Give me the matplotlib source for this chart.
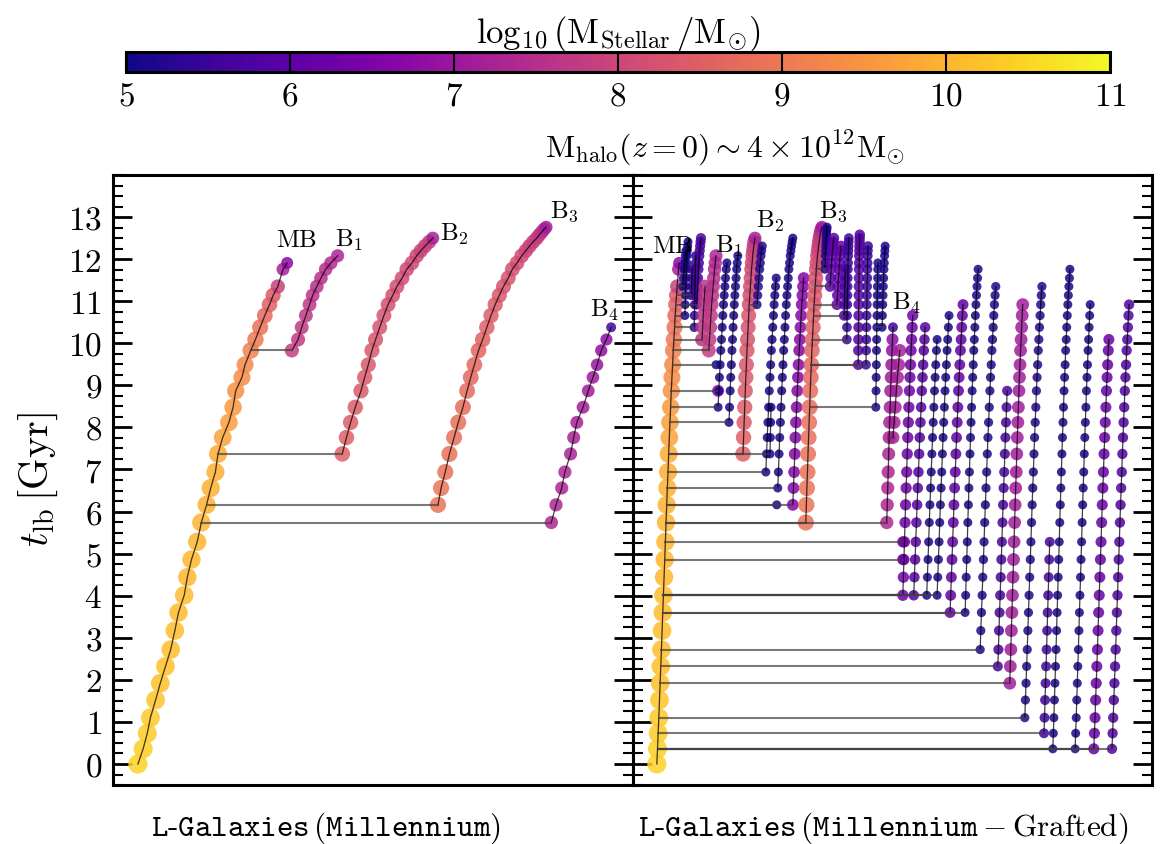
import numpy as np
import matplotlib
matplotlib.use('Agg')
import matplotlib.pyplot as plt
from matplotlib import colors, cm

plt.rcParams['mathtext.fontset'] = 'cm'
plt.rcParams['font.family'] = 'serif'
plt.rcParams['font.serif'] = ['cmr10']
plt.rcParams['axes.formatter.use_mathtext'] = True

# lookback time of every snapshot [Gyr], index = snapshot number
T_SNAP = [0.00, 0.36, 0.73, 1.10, 1.52, 1.92, 2.32, 2.72, 3.17, 3.60,
          4.01, 4.44, 4.86, 5.28, 5.74, 6.16, 6.56, 6.94, 7.37, 7.76,
          8.12, 8.48, 8.87, 9.19, 9.49, 9.83, 10.09, 10.38, 10.66, 10.92,
          11.14, 11.35, 11.55, 11.76, 11.91, 12.08, 12.20, 12.31, 12.41, 12.50,
          12.58, 12.65, 12.71, 12.76]

# log10 stellar mass along the named branches (first snapshot in *_START)
MB_START = 0
MB_MASS = [10.45, 10.4, 10.35, 10.3, 10.25, 10.2, 10.2, 10.15, 10.15, 10.1,
           10.1, 10.05, 10.05, 10.0, 10.0, 9.95, 9.95, 9.9, 9.85, 9.75,
           9.65, 9.55, 9.45, 9.35, 9.3, 9.15, 9.0, 8.85, 8.7, 8.55,
           8.4, 7.9, np.nan, 7.2, 6.7]
B1_START = 25
B1_MASS = [7.8, 7.75, 7.7, 7.7, 7.65, 7.6, 7.55, 7.5, 7.45, 7.4, 7.3]
B2_START = 18
B2_MASS = [8.55, 8.5, 8.45, 8.45, 8.4, 8.4, 8.35, 8.35, 8.3, 8.25, 8.25,
           8.2, 8.15, 8.15, 8.1, 8.05, 8.05, 8.0, 7.95, 7.9, 7.85, 7.2]
B3_START = 14
B3_MASS = [8.9, 8.9, 8.9, 8.85, 8.85, 8.8, 8.8, 8.75, 8.75, 8.7,
           8.65, 8.6, 8.55, 8.5, 8.45, 8.4, 8.35, 8.3, 8.25, 8.2,
           8.15, 8.1, 8.0, 7.95, 7.9, 7.8, 7.7, 7.6, 7.45, 7.1]
B4_START = 14
B4_MASS = [7.35, 7.35, 7.3, 7.3, 7.25, 7.25, 7.2, 7.15, 7.1, 7.05, 6.95, 6.85, 6.75, 5.6]

TRACKS = {'MB': (MB_START, MB_MASS), 'B1': (B1_START, B1_MASS),
          'B2': (B2_START, B2_MASS), 'B3': (B3_START, B3_MASS),
          'B4': (B4_START, B4_MASS)}

# left panel (Millennium): tree position of each point, % of panel width
L_NAME = ['MB', 'B1', 'B2', 'B3', 'B4']
L_FIRST = [0, 25, 18, 15, 14]
L_LAST = [34, 35, 39, 43, 27]
L_X = [
    [4.8, 5.8, 6.6, 7.2, 8.2, 9.1, 10.1, 11.1, 11.9, 12.6, 13.7, 14.3, 15.1,
     16.2, 17.0, 18.0, 18.8, 19.7, 20.2, 21.1, 22.3, 23.1, 23.6, 24.8, 25.4,
     26.5, 27.4, 28.3, 29.2, 30.1, 30.8, 31.7, 32.2, 32.7, 33.5],
    [34.4, 35.6, 36.3, 37.1, 37.8, 38.4, 39.2, 40.0, 40.9, 41.9, 43.2],
    [44.1, 44.9, 45.7, 46.6, 47.7, 48.4, 49.1, 49.8, 50.5, 51.3, 52.1,
     52.9, 53.8, 54.6, 55.6, 56.5, 57.5, 58.4, 59.2, 60.0, 60.8, 61.5],
    [62.5, 63.1, 63.9, 64.7, 65.6, 66.4, 67.3, 68.1, 68.8, 69.5, 70.3, 71.1,
     71.9, 72.7, 73.5, 74.3, 75.1, 76.0, 76.8, 77.7, 78.6, 79.4, 80.1, 80.8,
     81.5, 82.0, 82.5, 82.9, 83.3],
    [84.3, 85.2, 86.3, 86.9, 88.0, 88.6, 89.2, 90.4, 91.4, 92.3, 93.1, 93.9,
     94.9, 95.8],
]
L_INTO = [None, 'MB', 'MB', 'MB', 'MB']

# right panel (Millennium - Grafted): one entry per branch
R_NAME = ['MB', 'A0', 'A1', 'A2', 'A4', 'A3', 'P1', 'B1', 'S24', 'S22', 'C1', 'C2',
          'B2', 'G1', 'H1', 'H2', 'I0', 'I1', 'J1', 'B3', 'K1', 'K2', 'K3', 'K7',
          'K4', 'K5', 'K6', 'K9', 'K10', 'B4', 'M1', 'N1', 'S13', 'S12', 'O1', 'O2',
          'O3', 'O4', 'O5', 'O6', 'O7', 'X', 'Y', 'Z1', 'Z2', 'W1', 'W2', 'W3']
R_XBOT = [4.6, 9.6, 10.0, 11.2, 11.8, 12.3, 13.3, 14.6, 16.0, 16.4, 16.4, 18.5,
          21.2, 23.9, 25.6, 26.4, 27.7, 27.9, 30.8, 33.3, 37.0, 38.0, 39.3, 40.7,
          41.2, 43.4, 44.9, 46.8, 48.0, 48.9, 50.1, 52.0, 52.0, 52.0, 54.1, 56.6,
          58.6, 61.1, 64.0, 66.9, 70.3, 72.6, 75.5, 79.2, 80.9, 85.2, 88.8, 92.3]
R_XTOP = [8.9, 10.2, 10.6, 11.4, 12.1, 13.1, 13.9, 16.0, 16.0, 16.4, 18.1, 20.2,
          23.5, 24.9, 27.6, 26.6, 27.7, 30.8, 32.9, 36.4, 37.4, 38.7, 40.1, 40.9,
          41.6, 43.7, 45.3, 47.2, 48.6, 50.1, 51.4, 53.9, 52.0, 52.0, 56.3, 58.6,
          60.9, 63.6, 66.5, 69.9, 72.1, 75.1, 78.8, 80.3, 84.2, 88.1, 91.7, 95.6]
R_FIRST = [0, 31, 28, 30, 27, 29, 26, 25, 24, 22, 21, 20,
           18, 29, 17, 18, 15, 16, 15, 14, 33, 31, 29, 28,
           26, 24, 24, 21, 27, 14, 19, 10, 13, 12, 10, 10,
           10, 9, 9, 7, 6, 5, 3, 2, 1, 1, 1, 1]
R_LAST = [34, 36, 38, 33, 35, 39, 31, 35, 24, 22, 34, 35,
          39, 37, 32, 21, 15, 39, 32, 43, 43, 39, 37, 33,
          39, 40, 37, 34, 37, 27, 25, 28, 13, 12, 27, 26,
          28, 29, 33, 31, 22, 29, 31, 13, 33, 29, 26, 29]
R_MASS = [np.nan, 5.1, 5.1, 5.4, 5.3, 5.7, 7.6, np.nan, 5.1, 6.7, 5.1, 5.1,
          np.nan, 5.2, 5.1, 5.1, 5.1, 5.1, 6.6, np.nan, 5.1, 6.0, 6.1, 5.9,
          5.5, 5.9, 5.5, 5.1, 5.1, np.nan, 7.2, 6.3, 6.3, 6.3, 5.9, 5.1,
          5.1, 6.1, 5.1, 5.2, 5.7, 7.1, 5.2, 5.6, 5.1, 5.1, 6.2, 5.8]
R_INTO = [None, 'MB', 'MB', 'MB', 'MB', 'MB', 'MB', 'MB', 'MB', 'MB', 'MB', 'MB',
          'MB', 'B2', 'MB', 'MB', 'MB', 'MB', 'MB', 'MB', 'B3', 'B3', 'B3', 'B3',
          'B3', 'B3', 'B3', 'B3', 'K9', 'MB', 'B4', 'MB', 'MB', 'MB', 'MB', 'MB',
          'MB', 'MB', 'MB', 'MB', 'MB', 'MB', 'MB', 'MB', 'MB', 'MB', 'MB', 'MB']

# label offsets (points) from the top of each named branch
L_LABEL_OFF = {'MB': (6.5, 16.6), 'B1': (8.6, 11.9), 'B2': (15.8, 3.6),
               'B3': (13, 11.9), 'B4': (-5, 12.6)}
R_LABEL_OFF = {'MB': (-5, 12.2), 'B1': (9.4, 7.2), 'B2': (10.8, 13),
               'B3': (8.6, 12.2), 'B4': (10, 18)}
LABEL_TEXT = {'MB': r'${\rm MB}$', 'B1': r'${\rm B}_1$', 'B2': r'${\rm B}_2$',
              'B3': r'${\rm B}_3$', 'B4': r'${\rm B}_4$'}

cmap = plt.get_cmap('plasma')
norm = colors.Normalize(vmin=5, vmax=11)
T = np.array(T_SNAP)


def marker_size(m):
    return (0.72 * (8.8 + 1.9 * (np.asarray(m) - 5))) ** 2


def branch_mass(name, first, last, const):
    if name in TRACKS:
        start, track = TRACKS[name]
        return np.array(track[first - start:last - start + 1], dtype=float)
    return np.full(last - first + 1, const)


def draw_tree(ax, names, firsts, lasts, xs, masses, intos, label_off):
    tree = {}
    for name, f, l, x, m in zip(names, firsts, lasts, xs, masses):
        tree[name] = (f, np.asarray(x, dtype=float), m)
    for name, into in zip(names, intos):
        f, x, m = tree[name]
        t = T[f:f + len(x)]
        ok = ~np.isnan(m)
        ax.scatter(x[ok], t[ok], c=m[ok], cmap=cmap, norm=norm, s=marker_size(m[ok]),
                   alpha=0.85, edgecolors='none', zorder=2)
        if ok.sum() > 1:
            ax.plot(x[ok], t[ok], color='k', lw=0.9, alpha=0.75, zorder=3)
        if into is not None:
            f2, x2, _ = tree[into]
            ax.plot([x2[f - f2], x[0]], [T[f], T[f]], color='0.25', lw=1.5,
                    alpha=0.7, zorder=3)
        if name in label_off:
            ax.annotate(LABEL_TEXT[name], (x[-1], t[-1]), xytext=label_off[name],
                        textcoords='offset points', ha='center', va='center',
                        fontsize=18)


fig = plt.figure(figsize=(11.61, 8.45), dpi=100)
ax_l = fig.add_axes([0.0973, 0.0698, 0.4479, 0.7219])
ax_r = fig.add_axes([0.5452, 0.0698, 0.4470, 0.7219])

l_mass = [branch_mass(n, f, l, np.nan) for n, f, l in zip(L_NAME, L_FIRST, L_LAST)]
draw_tree(ax_l, L_NAME, L_FIRST, L_LAST, L_X, l_mass, L_INTO, L_LABEL_OFF)

r_x = [np.linspace(a, b, l - f + 1) for a, b, f, l in zip(R_XBOT, R_XTOP, R_FIRST, R_LAST)]
r_mass = [branch_mass(n, f, l, c) for n, f, l, c in zip(R_NAME, R_FIRST, R_LAST, R_MASS)]
draw_tree(ax_r, R_NAME, R_FIRST, R_LAST, r_x, r_mass, R_INTO, R_LABEL_OFF)

for ax in (ax_l, ax_r):
    ax.set_xlim(0, 100)
    ax.set_ylim(-0.5, 14)
    ax.set_xticks([])
    ax.set_yticks(range(0, 14))
    ax.yaxis.set_minor_locator(matplotlib.ticker.MultipleLocator(0.25))
    ax.tick_params(axis='y', which='both', direction='in', left=True, right=True)
    ax.tick_params(axis='y', which='major', length=14, width=2, labelsize=24, pad=8)
    ax.tick_params(axis='y', which='minor', length=7, width=1.5)
    for sp in ax.spines.values():
        sp.set_linewidth(2.2)

ax_r.tick_params(axis='y', labelleft=False)
fig.text(38 / 1161, 1 - 480 / 845, r'$t_{\rm lb}\,[\rm Gyr]$', rotation=90,
         ha='center', va='center', fontsize=29)

cax = fig.add_axes([0.1085, 0.9136, 0.8475, 0.0237])
sm = cm.ScalarMappable(norm=norm, cmap=cmap)
cbar = fig.colorbar(sm, cax=cax, orientation='horizontal', ticks=range(5, 12))
cbar.outline.set_linewidth(2.2)
cax.tick_params(which='major', direction='in', length=14.4, width=1.5,
                labelsize=24, pad=7)
cax.minorticks_off()
cax.xaxis.set_label_position('top')
cbar.set_label(r'$\log_{10}({\rm M}_{\rm Stellar}\,/{\rm M}_{\odot})$',
               fontsize=25, labelpad=7)

fig.text(725 / 1161, 1 - 148 / 845,
         r'${\rm M}_{\rm halo}(z=0) \sim 4\times10^{12}{\rm M}_{\odot}$',
         ha='center', va='center', fontsize=23)
fig.text(326 / 1161, 1 - 828 / 845,
         r'$\mathtt{L}$-$\mathtt{Galaxies}\,(\mathtt{Millennium})$',
         ha='center', va='center', fontsize=22.5)
fig.text(883 / 1161, 1 - 828 / 845,
         r'$\mathtt{L}$-$\mathtt{Galaxies}\,(\mathtt{Millennium}-{\rm Grafted})$',
         ha='center', va='center', fontsize=22.5)

fig.savefig('out.png', dpi=100)
